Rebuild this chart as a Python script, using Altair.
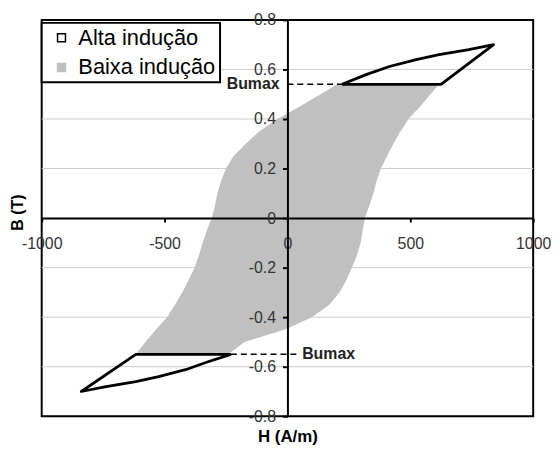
import altair as alt
import pandas as pd

FONT = "Liberation Sans"

# ---- Baixa indução (filled loop): B levels and H on each branch ----
B_levels = [-0.55, -0.5, -0.45, -0.4, -0.35, -0.3, -0.25, -0.2, -0.15, -0.1, -0.05, 0.0,
            0.05, 0.1, 0.15, 0.2, 0.25, 0.3, 0.35, 0.4, 0.45, 0.5, 0.54]
H_desc = [-617, -578, -535, -490, -458, -428, -402, -378, -360, -345, -328, -308,
          -295, -285, -270, -250, -220, -169, -115, -40, 50, 135, 202]
H_asc = [-240, -175, -10, 100, 170, 212, 240, 262, 283, 298, 306, 315,
         333, 350, 363, 380, 405, 431, 460, 492, 540, 582, 617]

# ---- Alta indução (visible tips of the high-induction loop) ----
alta_top_H = [222, 323, 415, 524, 617, 738, 839, 625, 222]
alta_top_B = [0.54, 0.58, 0.612, 0.64, 0.66, 0.68, 0.70, 0.54, 0.54]
alta_bot_H = [-230, -323, -415, -524, -617, -738, -839, -617, -230]
alta_bot_B = [-0.55, -0.58, -0.612, -0.64, -0.66, -0.68, -0.70, -0.55, -0.55]

# Bumax markers
bumax_B = [0.54, -0.55]
bumax_H_from = [0, -230]
bumax_H_to = [222, 40]
bumax_label_H = [-32, 60]
bumax_label = ["Bumax", "Bumax"]

x_ticks = [-1000, -500, 0, 500, 1000]
y_ticks = [-0.8, -0.6, -0.4, -0.2, 0, 0.2, 0.4, 0.6, 0.8]
grid_B = [-0.6, -0.4, -0.2, 0.2, 0.4, 0.6]

series = ["Alta indução", "Baixa indução"]

gray_df = pd.DataFrame({"B": B_levels, "H1": H_desc, "H2": H_asc, "serie": series[1]})
rows = []
for loop, hs, bs in (("top", alta_top_H, alta_top_B), ("bot", alta_bot_H, alta_bot_B)):
    for i, (h, b) in enumerate(zip(hs, bs)):
        rows.append({"loop": loop, "i": i, "H": h, "B": b, "serie": series[0]})
alta_df = pd.DataFrame(rows)
dash_df = pd.DataFrame({"B": bumax_B, "H": bumax_H_from, "x2": bumax_H_to})
lab_df = pd.DataFrame({"B": bumax_B, "H": bumax_label_H, "t": bumax_label,
                       "al": ["right", "left"]})
grid_df = pd.DataFrame({"B": grid_B})

xscale = alt.Scale(domain=[-1000, 1000], nice=False, zero=False)
yscale = alt.Scale(domain=[-0.8, 0.8], nice=False, zero=False)

x_axis = alt.Axis(title="H (A/m)", values=x_ticks, orient="bottom", offset=-200,
                  domainColor="black", domainWidth=2, tickColor="black", tickWidth=2,
                  tickSize=4, labelFont=FONT, labelFontSize=16, labelColor="#333333",
                  labelPadding=14, labelFlush=False, labelOverlap=False,
                  labelExpr="datum.value + ''", grid=False,
                  titleFont=FONT, titleFontSize=17, titleFontWeight="bold",
                  titleColor="black", titleY=220, titleBaseline="middle", zindex=1)
y_axis = alt.Axis(title="B (T)", values=y_ticks, orient="left", offset=-248,
                  domainColor="black", domainWidth=2, tickColor="black", tickWidth=2,
                  tickSize=5, labelFont=FONT, labelFontSize=16, labelColor="#333333",
                  labelPadding=7, labelFlush=False, labelOverlap=False,
                  labelExpr="datum.value + ''", grid=False,
                  titleFont=FONT, titleFontSize=16, titleFontWeight="bold",
                  titleColor="black", titleX=-272, titleY=194, titleAngle=270,
                  titleBaseline="middle", titleAlign="center", zindex=1)

def X(field):
    return alt.X(field, type="quantitative", scale=xscale, axis=x_axis)

def Y(field):
    return alt.Y(field, type="quantitative", scale=yscale, axis=y_axis)

legend = alt.Legend(title=None, orient="none", legendX=0, legendY=3,
                    symbolType="square", symbolSize=64, symbolStrokeWidth=1.5,
                    labelFont=FONT, labelFontSize=22, labelColor="black",
                    padding=4, rowPadding=8, labelOffset=6, symbolOffset=5,
                    strokeColor="black", fillColor="white", cornerRadius=0,
                    labelLimit=300)

fill_enc = alt.Fill("serie:N", scale=alt.Scale(domain=series, range=["white", "#c0c0c0"]),
                    legend=legend)
stroke_enc = alt.Stroke("serie:N", scale=alt.Scale(domain=series, range=["black", "#c0c0c0"]),
                        legend=legend)

grid = alt.Chart(grid_df).mark_rule(color="#cccccc", strokeWidth=1).encode(y=Y("B"))

gray = alt.Chart(gray_df).mark_area(orient="horizontal", opacity=1).encode(
    y=Y("B"), x=X("H1"), x2="H2:Q", fill=fill_enc)

alta = alt.Chart(alta_df).mark_line(strokeWidth=2.8, strokeJoin="round").encode(
    x=X("H"), y=Y("B"), stroke=stroke_enc, detail="loop:N", order="i:Q")

dash = alt.Chart(dash_df).mark_rule(color="black", strokeWidth=1.5, strokeDash=[6, 4]).encode(
    x=X("H"), x2="x2:Q", y=Y("B"))

labels_top = alt.Chart(lab_df[lab_df.al == "right"]).mark_text(
    font=FONT, fontSize=16, fontWeight="bold", align="right", baseline="middle", color="#222222"
).encode(x=X("H"), y=Y("B"), text="t:N")
labels_bot = alt.Chart(lab_df[lab_df.al == "left"]).mark_text(
    font=FONT, fontSize=16, fontWeight="bold", align="left", baseline="middle", color="#222222"
).encode(x=X("H"), y=Y("B"), text="t:N")

chart = alt.layer(grid, gray, alta, dash, labels_top, labels_bot).properties(
    width=496, height=400,
    background="white",
    autosize=alt.AutoSizeParams(type="none"),
    padding={"left": 34, "top": 10, "right": 19, "bottom": 28},
).configure_view(stroke="black", strokeWidth=2).configure_legend(strokeWidth=2)

chart.save("out.html", embed_options={"renderer": "svg", "actions": False})
